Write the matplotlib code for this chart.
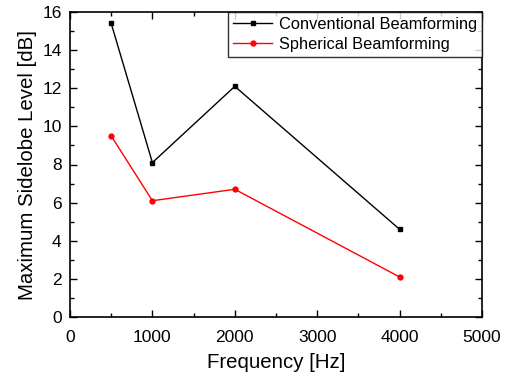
import numpy as np
import matplotlib
matplotlib.use("Agg")
import matplotlib.pyplot as plt
from matplotlib.ticker import MultipleLocator

plt.rcParams['font.family'] = ['Liberation Sans', 'DejaVu Sans']

freq = [500, 1000, 2000, 4000]
conventional = [15.4, 8.1, 12.1, 4.6]
spherical = [9.5, 6.1, 6.7, 2.1]

fig = plt.figure(figsize=(5.08, 3.76), dpi=100)
ax = fig.add_axes([70/508, 1-317/376, 412/508, 305/376])

ax.plot(freq, conventional, color='black', lw=1, marker='s', ms=3.2,
        label='Conventional Beamforming')
ax.plot(freq, spherical, color='red', lw=1, marker='o', ms=3.5,
        label='Spherical Beamforming')

ax.set_xlim(0, 5000)
ax.set_ylim(0, 16)
ax.xaxis.set_major_locator(MultipleLocator(1000))
ax.xaxis.set_minor_locator(MultipleLocator(500))
ax.yaxis.set_major_locator(MultipleLocator(2))
ax.yaxis.set_minor_locator(MultipleLocator(1))
ax.tick_params(which='both', direction='in', top=True, right=True, labelsize=12.5)
ax.tick_params(which='major', length=5, width=1, pad=6)
ax.tick_params(axis='x', which='major', pad=9)
ax.tick_params(which='minor', length=3, width=1)
for s in ax.spines.values():
    s.set_linewidth(1.2)

ax.set_xlabel('Frequency [Hz]', fontsize=14.7, labelpad=6)
ax.set_ylabel('Maximum Sidelobe Level [dB]', fontsize=14.7, labelpad=4)

leg = ax.legend(loc='upper right', fontsize=11.8, frameon=True, fancybox=False,
                edgecolor='black', borderaxespad=0, handlelength=2.4,
                borderpad=0.3, labelspacing=0.3, handletextpad=0.4)
leg.get_frame().set_linewidth(1)

fig.savefig('out.png', dpi=100)
